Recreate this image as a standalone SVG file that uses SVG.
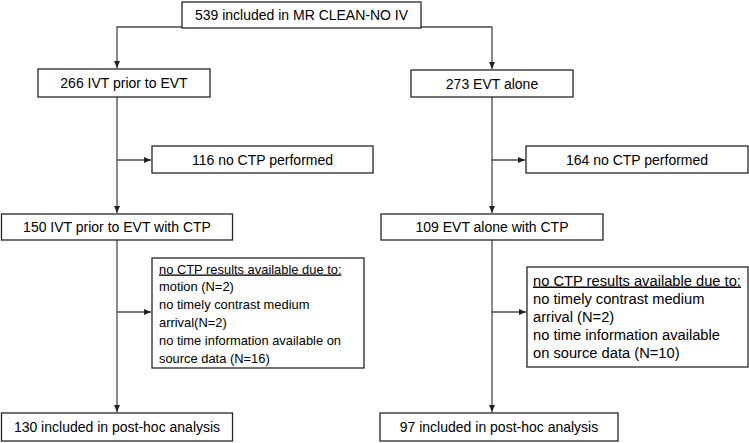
<svg xmlns="http://www.w3.org/2000/svg" width="749" height="443" viewBox="0 0 749 443">
<style>
.box{fill:#fff;stroke:#262626;stroke-width:1.3}
.t{font-family:"Liberation Sans",Arial,sans-serif;font-size:14px;fill:#000;text-anchor:middle}
.ex{font-family:"Liberation Sans",Arial,sans-serif;fill:#000}
.ln{fill:none;stroke:#4a4a4a;stroke-width:1.3}
</style>
<defs>
<marker id="ah" markerWidth="8" markerHeight="8" refX="7" refY="4" orient="auto" markerUnits="userSpaceOnUse">
<path d="M0,1 L7,4 L0,7 Z" fill="#222"/>
</marker>
</defs>
<g id="connectors">
<path class="ln" d="M182,27 H117 V68" marker-end="url(#ah)"/>
<path class="ln" d="M421,27 H492 V69" marker-end="url(#ah)"/>
<path class="ln" d="M117,97 V213" marker-end="url(#ah)"/>
<path class="ln" d="M117,160 H151" marker-end="url(#ah)"/>
<path class="ln" d="M117,240 V412" marker-end="url(#ah)"/>
<path class="ln" d="M117,312 H151" marker-end="url(#ah)"/>
<path class="ln" d="M492,97 V213" marker-end="url(#ah)"/>
<path class="ln" d="M492,160 H525" marker-end="url(#ah)"/>
<path class="ln" d="M492,240 V412" marker-end="url(#ah)"/>
<path class="ln" d="M492,312 H526" marker-end="url(#ah)"/>
</g>
<g id="n-top"><rect class="box" x="182" y="2" width="239" height="26"/><text class="t" x="301.5" y="20">539 included in MR CLEAN-NO IV</text></g>
<g id="n-ivt"><rect class="box" x="38" y="69" width="172" height="28"/><text class="t" x="124" y="88">266 IVT prior to EVT</text></g>
<g id="n-evt"><rect class="box" x="411" y="70" width="162" height="27"/><text class="t" x="492" y="88.5">273 EVT alone</text></g>
<g id="n-noctp-l"><rect class="box" x="152" y="146" width="221" height="27"/><text class="t" x="262.5" y="164.5">116 no CTP performed</text></g>
<g id="n-noctp-r"><rect class="box" x="526" y="146" width="222" height="27"/><text class="t" x="637" y="164.5">164 no CTP performed</text></g>
<g id="n-ivt-ctp"><rect class="box" x="1.5" y="214" width="231" height="26"/><text class="t" x="117" y="232">150 IVT prior to EVT with CTP</text></g>
<g id="n-evt-ctp"><rect class="box" x="381" y="214" width="222" height="26"/><text class="t" x="492" y="232">109 EVT alone with CTP</text></g>
<g id="n-excl-l"><rect class="box" x="152" y="258" width="212" height="110"/>
<text class="ex" font-size="12.9" x="159" y="273.5"><tspan text-decoration="underline">no CTP results available due to:</tspan><tspan x="159" dy="17.8">motion (N=2)</tspan><tspan x="159" dy="17.8">no timely contrast medium</tspan><tspan x="159" dy="17.8">arrival(N=2)</tspan><tspan x="159" dy="17.8">no time information available on</tspan><tspan x="159" dy="17.8">source data (N=16)</tspan></text></g>
<g id="n-excl-r"><rect class="box" x="527" y="267" width="221" height="100"/>
<text class="ex" font-size="14.7" x="533" y="285.5"><tspan text-decoration="underline">no CTP results available due to:</tspan><tspan x="533" dy="18">no timely contrast medium</tspan><tspan x="533" dy="18">arrival (N=2)</tspan><tspan x="533" dy="18">no time information available</tspan><tspan x="533" dy="18">on source data (N=10)</tspan></text></g>
<g id="n-final-l"><rect class="box" x="1.5" y="413" width="231" height="28"/><text class="t" x="117" y="432">130 included in post-hoc analysis</text></g>
<g id="n-final-r"><rect class="box" x="380" y="413" width="238" height="28"/><text class="t" x="499" y="432">97 included in post-hoc analysis</text></g>
</svg>
